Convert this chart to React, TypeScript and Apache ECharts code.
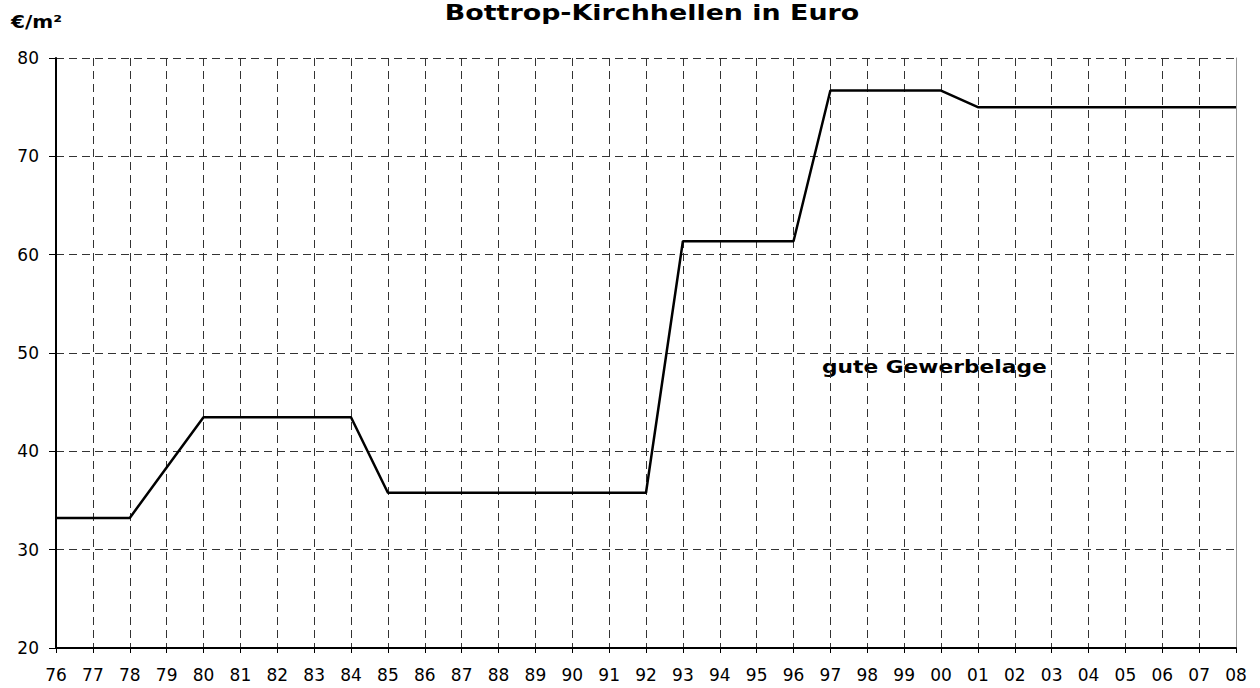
import React, { useEffect, useRef } from "react";
import * as echarts from "echarts";

const years = ["76","77","78","79","80","81","82","83","84","85","86","87","88","89","90","91","92","93","94","95","96","97","98","99","00","01","02","03","04","05","06","07","08"];
const prices = [33.23,33.23,33.23,38.35,43.46,43.46,43.46,43.46,43.46,35.79,35.79,35.79,35.79,35.79,35.79,35.79,35.79,61.36,61.36,61.36,61.36,76.69,76.69,76.69,76.69,75,75,75,75,75,75,75,75];
const yTicks = { min: 20, max: 80, interval: 10 };
const titleText = "Bottrop-Kirchhellen in Euro";
const unitText = "€/m²";
const noteText = "gute Gewerbelage";

export default function App() {
  const ref = useRef<HTMLDivElement>(null);
  useEffect(() => {
    if (!ref.current) return;
    const chart = echarts.init(ref.current, null, { renderer: "svg" });
    const font = "DejaVu Sans";
    const gridLine = { show: true, lineStyle: { color: "#333", width: 1, type: [8, 5] as any } };
    chart.setOption({
      animation: false,
      backgroundColor: "#fff",
      grid: { left: 56, right: 24, top: 58, bottom: 40, containLabel: false },
      xAxis: {
        type: "category",
        data: years,
        boundaryGap: false,
        axisLine: { show: true, lineStyle: { color: "#000", width: 2 } },
        axisTick: { show: true, length: 5, alignWithLabel: true, interval: 0, lineStyle: { color: "#000" } },
        axisLabel: { interval: 0, color: "#000", fontFamily: font, fontSize: 17, margin: 18 },
        splitLine: { ...gridLine, interval: 0 },
      },
      yAxis: [
        {
          type: "value",
          min: yTicks.min,
          max: yTicks.max,
          interval: yTicks.interval,
          axisLine: { show: true, lineStyle: { color: "#000", width: 2 } },
          axisTick: { show: true, length: 7, lineStyle: { color: "#000" } },
          axisLabel: { color: "#000", fontFamily: font, fontSize: 17, margin: 17 },
          splitLine: gridLine,
        },
        {
          type: "value",
          position: "right",
          min: yTicks.min,
          max: yTicks.max,
          interval: yTicks.interval,
          axisLine: { show: true, lineStyle: { color: "#999", width: 1 } },
          axisTick: { show: false },
          axisLabel: { show: false },
          splitLine: { show: false },
        },
      ],
      series: [
        {
          type: "line",
          data: prices,
          yAxisIndex: 0,
          symbol: "none",
          lineStyle: { color: "#000", width: 2.5 },
        },
      ],
      graphic: [
        {
          type: "text",
          x: 652,
          y: 3,
          scaleX: 1.28,
          style: { text: titleText, fontFamily: font, fontWeight: "bold", fontSize: 21, fill: "#000", align: "center", verticalAlign: "top" },
        },
        {
          type: "text",
          x: 11,
          y: 22,
          scaleX: 1.18,
          style: { text: unitText, fontFamily: font, fontWeight: "bold", fontSize: 17, fill: "#000", align: "left", verticalAlign: "middle" },
        },
        {
          type: "text",
          x: 822,
          y: 367,
          scaleX: 1.28,
          style: { text: noteText, fontFamily: font, fontWeight: "bold", fontSize: 17, fill: "#000", align: "left", verticalAlign: "middle" },
        },
      ],
    });
    return () => chart.dispose();
  }, []);
  return <div ref={ref} style={{ position: "fixed", left: 0, top: 0, width: 1260, height: 688 }} />;
}
